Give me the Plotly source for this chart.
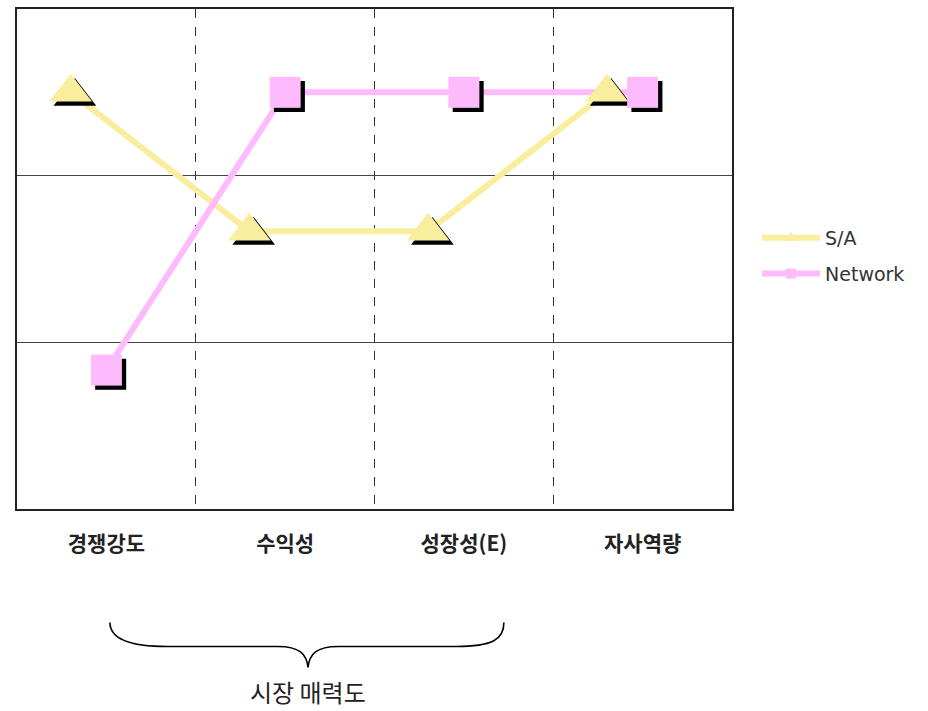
import plotly.graph_objects as go

categories = ["경쟁강도", "수익성", "성장성(E)", "자사역량"]
sa_values = [3, 2, 2, 3]
network_values = [1, 3, 3, 3]
series_names = ["S/A", "Network"]

YELLOW = "#F9EE9E"
PINK = "#FDBBFD"

cat_idx = list(range(len(categories)))
sa_x = [i - 0.2 for i in cat_idx]
net_x = [i for i in cat_idx]

# shadow offsets (data units ≈ 4 px)
dx = 0.024
dy = 0.03

fig = go.Figure()

fig.add_trace(go.Scatter(x=sa_x, y=sa_values, mode="lines+markers", name=series_names[0],
                         line=dict(color=YELLOW, width=6),
                         marker=dict(symbol="triangle-up", size=12, color=YELLOW),
                         legendgroup="a"))
fig.add_trace(go.Scatter(x=net_x, y=network_values, mode="lines+markers", name=series_names[1],
                         line=dict(color=PINK, width=6),
                         marker=dict(symbol="square", size=10, color=PINK),
                         legendgroup="b"))
# shadows
fig.add_trace(go.Scatter(x=[v + dx for v in sa_x], y=[v - dy for v in sa_values], mode="markers",
                         marker=dict(symbol="triangle-up", size=37, color="black"), showlegend=False,
                         hoverinfo="skip"))
fig.add_trace(go.Scatter(x=[v + dx for v in net_x], y=[v - dy for v in network_values], mode="markers",
                         marker=dict(symbol="square", size=31, color="black"), showlegend=False,
                         hoverinfo="skip"))
fig.add_trace(go.Scatter(x=sa_x, y=sa_values, mode="markers",
                         marker=dict(symbol="triangle-up", size=37, color=YELLOW), showlegend=False))
fig.add_trace(go.Scatter(x=net_x, y=network_values, mode="markers",
                         marker=dict(symbol="square", size=31, color=PINK), showlegend=False))

fig.update_layout(
    width=928, height=711,
    margin=dict(l=17, r=196, t=7, b=202),
    paper_bgcolor="white", plot_bgcolor="white",
    font=dict(family="Noto Sans CJK KR", color="#222"),
    legend=dict(x=1.035, y=0.58, xanchor="left", yanchor="top",
                font=dict(family="DejaVu Sans", size=19, color="#333"),
                itemwidth=58, tracegroupgap=8, bgcolor="rgba(0,0,0,0)"),
    xaxis=dict(range=[-0.5, 3.5], tickvals=cat_idx, ticktext=categories,
               showgrid=False, zeroline=False, showline=True, linecolor="#222", linewidth=1.5,
               mirror=True, ticks="", ticklabelstandoff=15,
               tickfont=dict(family="Noto Sans CJK KR", size=21, color="#222", weight="bold"),
               minor=dict(tickvals=[0.5, 1.5, 2.5], showgrid=True, gridcolor="#333",
                          gridwidth=1, griddash="dash", ticks="")),
    yaxis=dict(range=[0, 3.6], dtick=1.2, showticklabels=False, showgrid=True,
               gridcolor="#444", gridwidth=1, zeroline=False, showline=True,
               linecolor="#222", linewidth=1.5, mirror=True, ticks=""),
    shapes=[dict(type="path", xref="paper", yref="paper",
                 path=("M 0.13,-0.227 C 0.13,-0.262 0.16,-0.275 0.21,-0.275 "
                       "L 0.365,-0.275 C 0.395,-0.275 0.405,-0.29 0.407,-0.317 "
                       "C 0.409,-0.29 0.419,-0.275 0.449,-0.275 "
                       "L 0.614,-0.275 C 0.664,-0.275 0.681,-0.262 0.681,-0.227"),
                 line=dict(color="black", width=1.6))],
    annotations=[dict(text="시장 매력도", xref="paper", yref="paper", x=0.407, y=-0.365,
                      xanchor="center", yanchor="middle", showarrow=False,
                      font=dict(family="Noto Sans CJK KR", size=24, color="#222"))],
)

fig.write_html("out.html")
